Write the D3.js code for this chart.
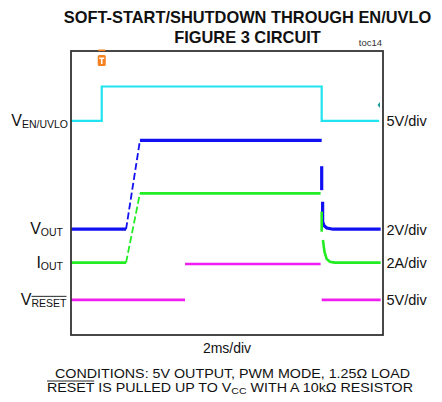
<!DOCTYPE html>
<html>
<head>
<meta charset="utf-8">
<script src="https://cdn.jsdelivr.net/npm/d3@7/dist/d3.min.js"></script>
<style>
  html, body { margin: 0; padding: 0; background: #fff; }
  svg { display: block; }
  text { font-family: "Liberation Sans", Arial, Helvetica, sans-serif; fill: #111; }
</style>
</head>
<body>
<svg id="chart" width="442" height="402"></svg>
<script>
// ---------------- data ----------------
const titleLines = ["SOFT-START/SHUTDOWN THROUGH EN/UVLO", "FIGURE 3 CIRCUIT"];
const tocLabel = "toc14";
const timeLabel = "2ms/div";
const timeDomainMs = [0, 20];          // 10 div x 2 ms
const divDomain = [-4, 4];             // 8 vertical divisions

// channel definitions
const channelMain = ["V", "V", "I", "V"];
const channelSub = ["EN/UVLO", "OUT", "OUT", "RESET"];
const channelScaleLabels = ["5V/div", "2V/div", "2A/div", "5V/div"];
const channelUnitsPerDiv = [5, 2, 2, 5];
const channelOffsetDiv = [2.03, -1.02, -1.96, -3.01];
const channelColors = ["#22e3f0", "#1010f2", "#22ec22", "#f01ef0"];

// EN/UVLO trace (V)
const enTime  = [0.0, 1.97, 1.97, 16.07, 16.07, 19.75];
const enValue = [0.0, 0.0, 4.85, 4.85, 0.0, 0.0];

// VOUT trace (V); NaN = gap in the sampled record
const voutTime  = [0.0, 3.53, 4.42, 16.07, NaN, 16.07, 16.07, NaN, 16.13, 16.13, 16.22, 16.40, 16.80, 19.85];
const voutValue = [0.0, 0.0, 5.0, 5.0, NaN, 3.55, 2.2, NaN, 1.55, 0.42, 0.2, 0.07, 0.0, 0.0];

// IOUT trace (A)
const ioutTime  = [0.0, 3.53, 4.42, 16.0, NaN, 16.07, 16.07, NaN, 16.15, 16.25, 16.39, 16.60, 16.90, 19.85];
const ioutValue = [0.0, 0.0, 3.9, 3.9, NaN, 2.87, 1.74, NaN, 1.27, 0.6, 0.2, 0.05, 0.0, 0.0];

// RESET trace (V)
const resetTime  = [0.0, 7.31, NaN, 7.31, 16.0, NaN, 16.07, 19.85];
const resetValue = [0.0, 0.0, NaN, 5.05, 5.05, NaN, 0.0, 0.0];

const triggerTimeMs = 1.97;
const triggerLevelV = 2.25;   // EN/UVLO trigger level marker

const conditionsLine1 = "CONDITIONS: 5V OUTPUT, PWM MODE, 1.25\u03A9 LOAD";
const conditionsLine2 = ["RESET", " IS PULLED UP TO V", "CC", " WITH A 10k\u03A9 RESISTOR"];

// ---------------- drawing ----------------
const svg = d3.select("#chart");
const box = { left: 71, right: 383, top: 51, bottom: 335 };

const x = d3.scaleLinear().domain(timeDomainMs).range([box.left, box.right]);
const yDiv = d3.scaleLinear().domain(divDomain).range([box.bottom, box.top]);
const yFor = ch => v => yDiv(v / channelUnitsPerDiv[ch] + channelOffsetDiv[ch]);

// titles
svg.append("text").attr("x", 247.5).attr("y", 22.5).attr("text-anchor", "middle")
  .style("font-weight", "bold").style("font-size", "16.4px").text(titleLines[0]);
svg.append("text").attr("x", 247.5).attr("y", 43).attr("text-anchor", "middle")
  .style("font-weight", "bold").style("font-size", "16.4px").text(titleLines[1]);
svg.append("text").attr("x", 382).attr("y", 45.5).attr("text-anchor", "end")
  .style("font-size", "9.5px").style("fill", "#333").text(tocLabel);

// traces
const series = [
  [enTime, enValue], [voutTime, voutValue], [ioutTime, ioutValue], [resetTime, resetValue]
];
const widths = [2.2, 3.2, 2.6, 2.6];
const gTr = svg.append("g");
series.forEach(([ts, vs], ch) => {
  const pts = ts.map((t, i) => ({ t, v: vs[i] }));
  const y = yFor(ch);
  // split into runs: steep ramps (dashed) vs flat/vertical (solid)
  const runs = [];
  let cur = null;
  for (let i = 1; i < pts.length; i++) {
    const a = pts[i - 1], b = pts[i];
    if (isNaN(a.t) || isNaN(b.t)) { cur = null; continue; }
    const dt = b.t - a.t, dv = Math.abs(y(b.v) - y(a.v));
    const ramp = dt > 0.3 && dv > 20;
    if (!cur || cur.ramp !== ramp) { cur = { ramp, pts: [a] }; runs.push(cur); }
    cur.pts.push(b);
  }
  const line = d3.line().x(d => x(d.t)).y(d => y(d.v));
  runs.forEach(r => {
    gTr.append("path").attr("d", line(r.pts)).attr("fill", "none")
      .attr("stroke", channelColors[ch])
      .attr("stroke-width", r.ramp ? 1.8 : widths[ch])
      .attr("stroke-dasharray", r.ramp ? "7,3" : null)
      .attr("stroke-linejoin", "miter");
  });
});

// frame
svg.append("rect").attr("x", box.left).attr("y", box.top)
  .attr("width", box.right - box.left).attr("height", box.bottom - box.top)
  .attr("fill", "none").attr("stroke", "#333").attr("stroke-width", 1.8);

// trigger marker (top)
const tx = x(triggerTimeMs);
svg.append("rect").attr("x", tx - 3.5).attr("y", 49.5).attr("width", 7).attr("height", 1.6).attr("fill", "#f5821f");
svg.append("rect").attr("x", tx - 4).attr("y", 55).attr("width", 8).attr("height", 11).attr("rx", 1.5).attr("fill", "#f5821f");
svg.append("path").attr("d", `M${tx - 2.5},57.5 H${tx + 2.5} V59 H${tx + 0.8} V64 H${tx - 0.8} V59 H${tx - 2.5} Z`).attr("fill", "#fff");

// trigger level marker (right)
const ty = yFor(0)(triggerLevelV);
svg.append("path").attr("d", `M${box.right - 3},${ty - 3} L${box.right - 5.5},${ty} L${box.right - 3},${ty + 3} Z`).attr("fill", "#1a9c9c");

// left channel labels
const leftRight = [68, 63, 63, 66.5];
channelMain.forEach((m, ch) => {
  const yy = yFor(ch)(0);
  const t = svg.append("text").attr("x", leftRight[ch]).attr("y", yy + 5).attr("text-anchor", "end")
    .style("font-size", "16px");
  t.append("tspan").text(m);
  t.append("tspan").attr("dy", 2).style("font-size", "10.5px").text(channelSub[ch]);
  if (channelSub[ch] === "RESET") {
    const node = t.node();
    const s = node.getStartPositionOfChar(1).x;
    const e = node.getEndPositionOfChar(5).x;
    svg.append("line").attr("x1", s).attr("x2", e).attr("y1", yy - 3.5).attr("y2", yy - 3.5)
      .attr("stroke", "#111").attr("stroke-width", 0.9);
  }
});

// right scale labels
channelScaleLabels.forEach((lab, ch) => {
  const yy = yFor(ch)(0);
  svg.append("text").attr("x", 386.5).attr("y", yy + 5.5)
    .style("font-size", "14.5px").text(lab);
});

// time base label
svg.append("text").attr("x", 227).attr("y", 352.5).attr("text-anchor", "middle")
  .style("font-size", "14px").text(timeLabel);

// conditions
svg.append("text").attr("x", 55).attr("y", 377.5)
  .attr("textLength", 355).attr("lengthAdjust", "spacingAndGlyphs")
  .style("font-size", "12.2px").text(conditionsLine1);
const c2 = svg.append("text").attr("x", 47).attr("y", 391.5)
  .attr("textLength", 366).attr("lengthAdjust", "spacingAndGlyphs")
  .style("font-size", "12.2px");
c2.append("tspan").text(conditionsLine2[0]);
c2.append("tspan").text(conditionsLine2[1]);
c2.append("tspan").attr("dy", 2.5).style("font-size", "9px").text(conditionsLine2[2]);
c2.append("tspan").attr("dy", -2.5).text(conditionsLine2[3]);
{
  const node = c2.node();
  const s = node.getStartPositionOfChar(0).x;
  const e = node.getEndPositionOfChar(4).x;
  svg.append("line").attr("x1", s).attr("x2", e).attr("y1", 381).attr("y2", 381)
    .attr("stroke", "#111").attr("stroke-width", 0.9);
}
</script>
</body>
</html>
